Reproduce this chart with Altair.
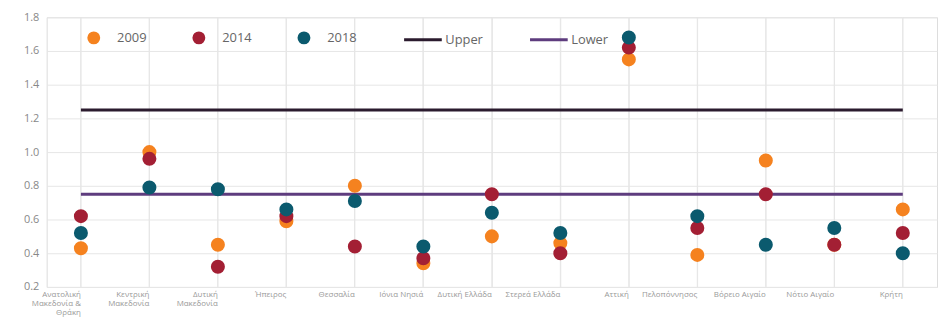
import altair as alt
import pandas as pd

regions = [
    "Ανατολική Μακεδονία & Θράκη", "Κεντρική Μακεδονία", "Δυτική Μακεδονία",
    "Ήπειρος", "Θεσσαλία", "Ιόνια Νησιά", "Δυτική Ελλάδα", "Στερεά Ελλάδα",
    "Αττική", "Πελοπόννησος", "Βόρειο Αιγαίο", "Νότιο Αιγαίο", "Κρήτη",
]
v2009 = [0.43, 1.00, 0.45, 0.59, 0.80, 0.34, 0.50, 0.46, 1.55, 0.39, 0.95, 0.45, 0.66]
v2014 = [0.62, 0.96, 0.32, 0.62, 0.44, 0.37, 0.75, 0.40, 1.62, 0.55, 0.75, 0.45, 0.52]
v2018 = [0.52, 0.79, 0.78, 0.66, 0.71, 0.44, 0.64, 0.52, 1.68, 0.62, 0.45, 0.55, 0.40]
upper = 1.25
lower = 0.75

series = ["2009", "2014", "2018", "Upper", "Lower"]
colors = ["#F5821F", "#A31F34", "#0B5A6E", "#2B1B2E", "#5E3C7E"]

rows = []
for name, vals in [("2009", v2009), ("2014", v2014), ("2018", v2018)]:
    for r, v in zip(regions, vals):
        rows.append({"region": r, "value": v, "series": name})
pts = pd.DataFrame(rows)

lines = pd.DataFrame([
    {"region": regions[0], "value": upper, "series": "Upper"},
    {"region": regions[-1], "value": upper, "series": "Upper"},
    {"region": regions[0], "value": lower, "series": "Lower"},
    {"region": regions[-1], "value": lower, "series": "Lower"},
])

legend_rows = pd.DataFrame({"series": series, "region": [regions[0]] * len(series),
                            "value": [None] * len(series)})

label_map = {
    "Ανατολική Μακεδονία & Θράκη": ["Ανατολική", "Μακεδονία &", "Θράκη"],
    "Κεντρική Μακεδονία": ["Κεντρική", "Μακεδονία"],
    "Δυτική Μακεδονία": ["Δυτική", "Μακεδονία"],
}
expr = "datum.label"
for k, v in label_map.items():
    arr = "[" + ",".join("'" + s + "'" for s in v) + "]"
    expr = f"datum.label == '{k}' ? {arr} : ({expr})"

xenc = alt.X("region:N", sort=regions,
             scale=alt.Scale(domain=regions, paddingInner=0, paddingOuter=0),
             axis=alt.Axis(title=None, labelAngle=0, labelFontSize=8, labelColor="#999",
                           labelExpr=expr, ticks=False, domain=False, grid=True,
                           gridColor="#e6e6e6", labelPadding=8, labelLineHeight=9,
                           labelLimit=90))
yenc = alt.Y("value:Q", scale=alt.Scale(domain=[0.2, 1.8], nice=False),
             axis=alt.Axis(title=None, values=[0.2, 0.4, 0.6, 0.8, 1.0, 1.2, 1.4, 1.6, 1.8],
                           format=".1f", labelFontSize=11, labelColor="#888", ticks=False,
                           domain=False, gridColor="#e6e6e6", labelPadding=8))

legend = alt.Legend(
    title=None, orient="none", legendX=56, legendY=14, direction="horizontal",
    labelFontSize=13, labelColor="#666", columnPadding=41, labelOffset=2,
    symbolStrokeWidth=3, symbolSize=100,
)

dot_path = "M-2,0A1,1,0,1,1,-4,0A1,1,0,1,1,-2,0Z"
line_path = "M-6.6,0H1"

color = alt.Color("series:N", scale=alt.Scale(domain=series, range=colors), legend=legend)
shape = alt.Shape("series:N", scale=alt.Scale(domain=series,
                  range=[dot_path, dot_path, dot_path, line_path, line_path]), legend=legend)

centers = alt.Chart(pd.DataFrame({"region": regions})).mark_rule(
    color="#e6e6e6", strokeWidth=1).encode(x=alt.X("region:N", sort=regions))

legend_layer = alt.Chart(legend_rows).mark_point(filled=True, opacity=1).encode(
    x=xenc, y=yenc, color=color, shape=shape)

line_layer = alt.Chart(lines).mark_line(strokeWidth=3).encode(
    x=xenc, y=yenc, color=color, detail="series:N")

point_layer = alt.Chart(pts).mark_point(filled=True, opacity=1, size=200, shape="circle").encode(
    x=xenc, y=yenc, color=color, order=alt.Order("series:N"))

chart = alt.layer(centers, legend_layer, line_layer, point_layer).properties(
    width=898, height=272,
    autosize=alt.AutoSizeParams(type="none"),
    padding={"left": 39, "top": 8, "right": 4, "bottom": 30},
).configure_view(stroke="#e0e0e0").configure(font="Open Sans")

chart.save("out.html", embed_options={"renderer": "svg", "actions": False})
